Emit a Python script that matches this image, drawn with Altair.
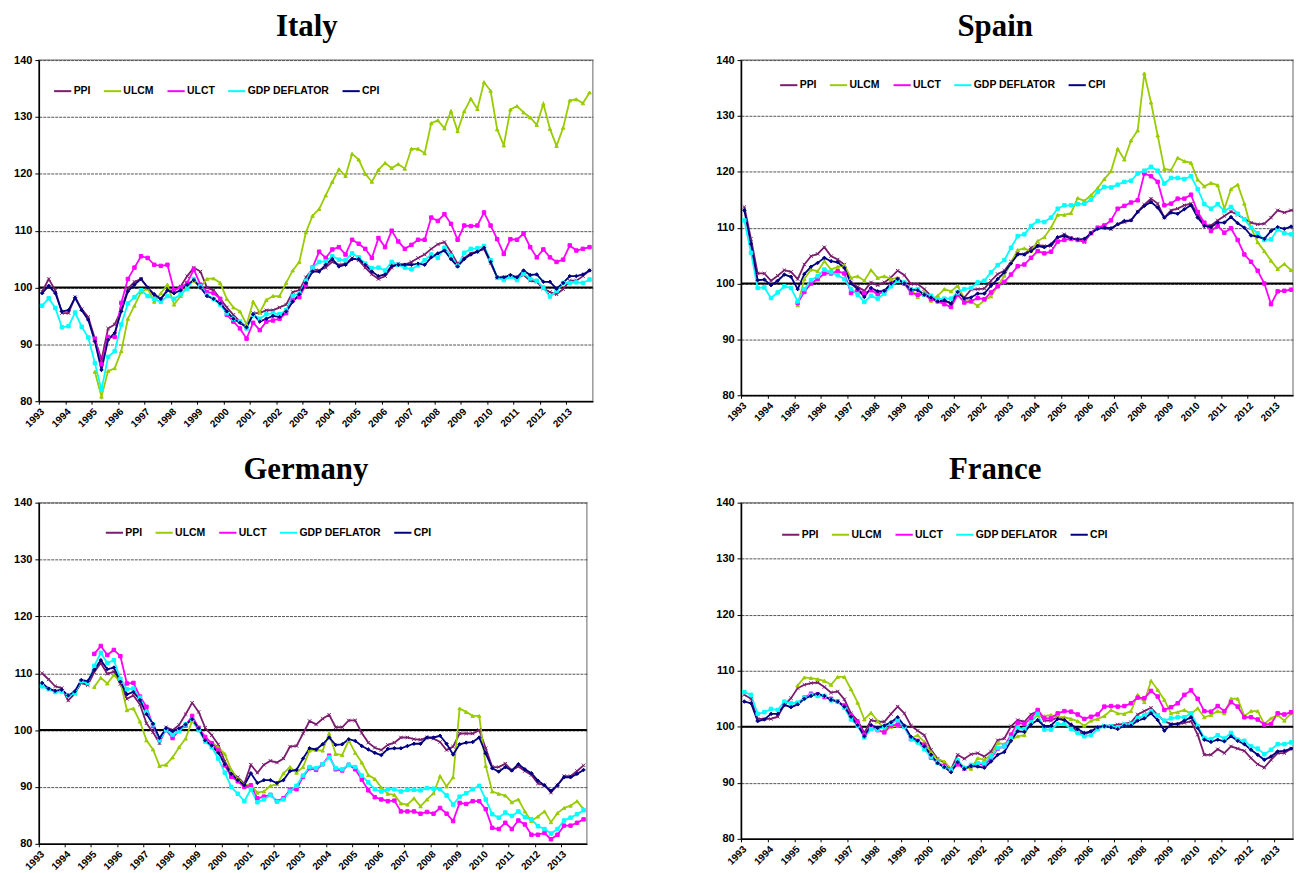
import altair as alt
import pandas as pd

SERIES = ["PPI", "ULCM", "ULCT", "GDP DEFLATOR", "CPI"]
COLORS = ["#7B1C6E", "#99CC00", "#FF00FF", "#00FFFF", "#000080"]
SHAPES = ["M-1,-1L1,1M-1,1L1,-1", "triangle-up", "square", "square", "diamond"]
YEARS = list(range(1993, 2014))
Y_TICKS = [80, 90, 100, 110, 120, 130, 140]
NA8 = [None] * 8

# ---------------- Italy ----------------
IT_PPI = [99.3,101.5,99.5,95.5,95.5,98.3,96.2,94.8,91.0,87.3, 92.8,93.5,96.0,99.8,101.0,101.5,100.0,98.5,98.0,99.5,
          99.5,100.2,102.0,103.5,102.8,100.0,99.5,98.0,96.5,95.2, 94.0,93.0,95.5,95.5,96.0,96.0,96.5,97.0,99.2,99.5,
          101.8,103.2,103.0,103.5,104.5,104.0,104.2,105.2,104.8,103.5, 102.3,101.5,102.0,103.5,104.2,104.0,104.5,105.2,105.8,106.8,
          107.6,108.0,106.2,104.2,105.2,106.0,106.3,106.8,104.3,101.8, 101.8,102.0,101.8,102.2,101.2,101.0,99.8,99.2,98.8,99.7,
          101.2,101.2,102.0,103.0]
IT_ULCM = NA8 + [85.2,80.8,85.3,85.8,88.8,94.5,96.8,99.2,99.8,97.5, 99.0,100.5,97.0,98.5,100.3,101.2,100.0,101.5,101.6,100.8,
          98.0,96.5,95.8,93.5,97.5,95.6,97.8,98.5,98.5,100.8, 103.0,104.5,109.7,112.6,113.8,116.2,118.6,120.8,119.6,123.5,
          122.5,120.0,118.6,120.7,121.9,121.0,121.7,120.9,124.4,124.4, 123.6,128.9,129.4,128.0,131.0,127.5,131.0,133.2,131.4,136.1,
          134.6,127.8,125.0,131.3,131.9,130.8,129.9,128.6,132.3,127.9, 124.9,128.1,132.9,133.1,132.4,134.3]
IT_ULCT = NA8 + [91.0,86.5,91.3,91.3,97.3,101.5,103.5,105.5,105.2,104.0, 103.8,104.0,99.5,100.0,100.8,103.2,100.5,99.2,99.0,98.0,
          95.2,94.0,92.8,91.0,93.8,92.5,94.0,94.2,94.5,95.5, 97.8,98.3,100.5,103.5,
          106.3,105.2,106.7,107.1,105.8,108.4,107.7,106.8,105.2,108.7, 107.1,110.0,108.1,106.8,107.5,108.4,108.4,112.3,111.7,112.9,
          111.2,108.4,110.9,110.8,110.9,113.2,110.9,108.5,105.9,108.5, 108.4,109.5,107.1,105.3,106.7,105.3,104.5,104.9,107.4,106.5,
          106.8,107.1]
IT_GDP = [96.8,98.1,96.4,93.0,93.2,95.6,93.1,91.2,86.7,82.0, 87.8,88.8,93.5,97.2,98.3,99.5,98.5,98.0,97.5,98.5,
          98.0,98.8,99.8,101.5,100.2,98.7,98.0,97.0,95.5,94.5, 94.0,92.8,95.2,94.5,95.3,95.5,95.3,96.0,98.5,99.0,
          101.2,103.5,
          104.5,104.6,105.5,104.9,104.8,106.0,105.3,104.2,103.4,103.5, 103.0,104.5,104.0,103.5,103.2,103.9,104.8,105.8,105.2,107.0,
          105.6,103.8,106.1,106.8,106.9,107.3,104.8,101.7,101.3,101.9, 101.3,102.4,101.6,101.2,100.0,98.4,99.4,100.8,100.8,100.9,
          100.8,101.4]
IT_CPI = [99.0,100.3,99.0,95.8,96.0,98.2,96.0,94.3,90.5,85.5, 90.8,92.0,95.8,99.3,100.5,101.5,100.0,98.8,98.0,99.5,
          99.0,99.5,100.5,101.3,100.0,98.5,98.0,97.2,95.8,94.5, 93.8,93.0,95.3,94.0,94.5,95.0,94.8,95.8,97.5,98.8,
          100.8,102.8,102.8,104.0,105.0,103.7,104.0,105.0,105.0,104.0, 102.8,102.0,102.3,103.8,104.0,104.0,104.0,104.2,104.0,105.3,
          106.0,106.5,105.0,103.7,105.0,105.8,106.3,107.0,104.5,101.8, 101.8,102.2,101.8,103.0,102.2,102.3,101.0,101.0,99.8,100.8,
          102.0,102.0,102.3,103.0]

# ---------------- Spain ----------------
ES_PPI = [113.7,108.0,101.8,101.8,100.5,101.4,102.4,102.1,100.8,103.4, 104.9,105.3,106.5,104.9,104.3,103.4,100.2,99.4,98.7,100.2,
          99.7,100.2,101.1,102.3,101.5,99.9,99.9,99.0,97.8,96.8, 96.9,96.5,98.4,97.5,98.9,99.0,
          99.1,100.5,101.7,102.3,103.9,105.4,105.2,106.4,106.9,106.7, 106.7,108.2,108.8,108.1,107.9,107.4,109.1,110.0,109.9,109.7,
          110.6,111.0,111.3,112.9,114.1,115.2,114.3,111.8,113.1,113.4, 114.0,114.3,112.4,110.4,110.4,111.3,112.1,112.9,112.3,111.6,
          110.9,110.6,110.7,111.8,113.1,112.7,113.1,113.2]
ES_ULCM = NA8 + [96.1,100.8,102.5,102.2,104.0,102.5,103.0,103.3,101.0,101.3, 100.5,102.4,101.0,101.3,100.8,101.0,100.0,99.0,97.6,98.5,
          96.9,97.8,99.0,98.6,99.6,97.3,96.8,96.0,
          97.0,97.7,99.5,101.4,103.8,106.0,106.3,105.8,107.6,108.3, 110.0,112.3,112.3,112.6,115.3,114.8,115.8,117.1,118.7,120.1,
          124.1,122.2,125.6,127.4,137.6,132.4,126.5,120.5,120.3,122.5, 121.9,121.6,118.6,117.4,118.0,117.6,113.4,116.9,117.7,114.3,
          110.0,107.4,105.8,104.1,102.6,103.5,102.4,102.5]
ES_ULCT = NA8 + [96.5,98.5,100.0,100.8,101.8,101.8,102.2,101.8,98.3,98.8, 98.3,98.8,98.1,98.6,100.0,100.8,100.0,98.3,98.0,98.0,
          97.2,96.8,96.3,95.8,98.0,96.6,96.8,97.4,
          97.2,98.4,99.5,100.3,101.6,103.1,103.4,104.6,105.8,105.4, 105.7,107.5,107.8,108.0,107.8,107.6,109.0,110.0,110.4,111.3,
          113.4,113.9,114.5,114.9,119.7,119.2,118.2,114.0,114.3,115.2, 115.2,115.9,112.8,110.9,109.4,110.3,109.1,109.9,107.8,105.2,
          103.9,102.3,100.0,96.3,98.6,98.7,98.9,98.9]
ES_GDP = [111.3,105.5,99.2,99.3,97.4,98.4,99.5,99.2,96.8,99.0, 100.6,101.3,102.5,102.0,101.5,100.8,99.0,98.0,96.7,97.8,
          97.3,98.2,99.5,100.5,100.2,99.0,99.0,98.0,97.8,97.2, 97.3,97.3,98.4,99.0,99.2,100.2,
          100.5,102.0,103.3,104.2,106.4,108.5,108.8,110.3,111.2,111.0, 111.8,113.4,114.0,114.0,114.2,114.3,115.0,116.4,117.3,117.2,
          117.7,118.2,118.4,119.7,120.2,120.9,120.2,117.9,118.9,118.9, 118.7,119.2,116.9,114.2,113.4,114.2,113.0,113.7,112.5,111.5,
          110.0,109.0,107.8,107.9,109.7,109.0,108.8,108.8]
ES_CPI = [113.1,107.1,100.6,100.7,99.7,100.5,101.6,101.2,99.0,101.7, 103.0,103.7,104.6,104.0,103.8,102.8,100.0,99.0,97.6,99.2,
          98.6,98.7,100.0,100.8,100.0,98.9,98.8,98.0,97.5,96.8, 97.0,96.4,98.5,97.3,97.5,98.2,
          98.2,99.6,100.8,102.0,103.6,105.2,105.2,105.8,106.7,106.5, 107.0,108.3,108.5,108.1,107.9,108.0,109.0,109.8,110.0,109.9,
          110.6,111.2,111.3,112.8,113.9,114.6,113.6,111.8,112.7,112.5, 113.3,114.0,111.8,110.3,110.1,110.9,110.9,111.9,110.8,110.0,
          108.6,108.4,108.0,109.4,110.1,109.8,110.2,110.2]

# ---------------- Germany ----------------
DE_PPI = [110.0,108.9,107.7,107.4,105.2,106.4,108.3,107.9,110.2,111.8, 109.9,110.3,108.1,105.5,106.1,104.5,101.2,99.6,97.7,100.5,
          100.0,100.9,102.8,104.8,103.2,100.4,99.1,97.5,94.5,92.5, 91.7,90.6,93.9,92.5,93.9,94.6,94.3,95.0,97.1,97.2,
          99.4,101.6,
          101.0,102.0,102.7,100.5,100.5,101.7,101.7,99.5,97.8,96.9, 96.5,97.4,97.8,98.7,98.7,98.4,98.3,98.7,98.5,97.9,
          96.5,97.1,99.4,99.4,99.4,100.0,96.8,93.5,93.5,94.1, 92.9,93.6,92.8,92.1,90.6,90.3,89.0,90.3,91.9,91.9,
          92.8,93.8]
DE_ULCM = NA8 + [107.6,109.2,108.2,109.7,108.5,103.5,103.8,101.5,98.2,96.6, 93.7,93.9,95.2,97.0,98.5,101.6,100.0,98.5,97.8,97.0,
          95.8,93.0,91.5,90.4,90.3,89.0,89.2,90.2,90.5,92.4, 93.5,92.5,93.5,96.4,
          96.5,96.4,99.4,95.8,95.6,98.2,96.0,94.3,92.1,91.4, 89.9,88.8,88.6,87.1,86.9,88.0,86.6,87.8,88.9,91.9,
          90.1,91.7,103.8,103.2,102.5,102.5,93.7,89.2,88.8,88.5, 87.3,87.8,85.7,84.0,84.8,85.7,83.8,85.4,86.3,86.7,
          87.5,86.1]
DE_ULCT = NA8 + [113.4,114.8,113.2,114.1,113.0,108.2,108.3,105.9,104.1,100.7, 98.2,100.0,98.6,100.0,100.8,102.5,100.4,98.8,97.7,96.5,
          93.8,91.8,91.0,90.0,90.3,88.0,88.3,88.6,87.5,88.0, 89.5,89.6,91.8,93.3,
          93.0,94.0,95.5,93.1,92.9,93.9,93.1,91.3,89.4,88.2, 87.8,87.5,87.6,85.7,85.7,85.7,85.3,85.6,85.3,86.3,
          85.3,84.0,87.2,87.0,87.5,87.5,86.1,82.8,82.6,83.7, 82.6,84.1,83.4,81.6,81.6,81.9,80.8,81.6,83.2,83.2,
          83.7,84.3]
DE_GDP = [107.7,107.2,106.7,106.8,106.1,106.5,108.6,108.3,111.3,113.6, 111.8,112.3,109.0,107.2,107.3,105.7,103.2,101.0,98.2,100.0,
          99.2,99.8,101.0,101.8,100.0,98.0,97.0,95.0,92.5,90.0, 88.8,87.5,89.6,87.3,87.8,88.6,87.4,87.8,89.3,90.2,
          92.0,93.5,
          93.3,94.0,95.2,93.3,93.1,93.9,93.5,92.0,90.8,89.6, 89.2,89.6,89.6,89.2,89.5,89.5,89.4,89.8,89.7,89.6,
          88.5,86.9,88.3,88.9,89.6,90.2,87.8,85.2,84.6,85.5, 84.9,85.7,84.7,84.3,83.1,82.6,81.8,82.6,84.1,84.6,
          85.2,85.9]
DE_CPI = [108.3,107.3,106.9,107.1,106.1,106.8,108.8,108.6,110.6,112.3, 110.7,111.0,108.5,106.3,106.7,105.3,102.8,101.1,98.6,100.3,
          99.8,100.3,101.0,101.9,100.3,98.2,97.3,96.0,94.0,92.3, 91.2,90.3,92.4,90.7,91.2,91.2,90.7,91.2,92.8,93.0,
          95.0,96.8,
          96.6,97.5,98.7,97.4,97.5,98.4,98.1,97.2,96.6,96.0, 95.6,96.7,96.8,96.8,97.2,97.6,97.6,98.7,98.7,99.0,
          97.6,95.7,97.5,97.8,97.9,98.7,95.9,93.3,92.7,93.5, 92.9,94.0,93.1,92.4,91.1,90.3,89.3,90.3,91.7,91.7,
          92.3,93.0]

# ---------------- France ----------------
FR_PPI = [105.7,105.0,101.4,101.4,101.4,101.8,103.9,105.1,106.9,107.5, 107.8,107.9,107.1,106.1,106.3,104.9,102.4,101.1,98.9,101.2,
          100.9,100.9,102.3,103.6,102.4,100.2,99.3,98.5,95.9,94.3, 93.6,92.4,95.0,94.3,95.1,95.3,
          94.7,95.6,97.6,97.9,100.1,101.2,100.9,102.2,102.8,101.1, 101.1,101.7,101.4,100.2,99.1,98.6,99.1,99.9,100.2,100.2,
          100.4,100.5,100.8,102.2,102.8,103.4,102.1,101.0,100.5,100.5, 100.7,101.0,98.6,95.0,95.0,96.0,95.3,96.5,96.1,95.7,
          94.4,93.3,92.7,94.1,95.3,95.3,96.1,96.2]
FR_ULCM = NA8 + [107.4,108.8,108.7,108.5,108.2,107.5,108.9,108.9,106.7,104.3, 101.3,102.5,101.0,99.6,100.0,100.2,100.0,98.0,98.5,97.3,
          95.5,94.2,93.8,92.5,93.8,92.8,92.5,94.4,
          94.1,95.0,97.1,96.9,97.7,98.3,98.5,101.1,102.1,101.9, 102.1,101.7,101.7,101.4,101.0,100.2,101.1,101.4,101.9,103.0,
          102.4,102.3,102.8,105.7,104.4,108.2,106.6,104.8,102.4,102.6, 103.0,102.3,103.3,101.7,102.1,102.8,102.4,105.0,105.0,101.9,
          102.8,102.8,100.5,101.5,102.1,101.1,102.4,102.5]
FR_ULCT = NA8 + [104.2,105.2,105.9,105.8,105.3,105.0,104.5,103.8,102.0,100.8, 98.6,100.0,99.4,99.0,100.2,100.4,100.0,97.8,97.5,96.8,
          94.5,93.6,93.0,92.2,93.3,92.5,93.0,93.4,
          93.2,94.4,96.1,96.5,98.6,100.7,100.5,101.5,103.0,101.5, 101.5,102.4,102.8,102.7,102.2,101.4,101.8,102.2,103.6,103.7,
          103.6,103.7,104.2,105.2,105.1,106.4,105.4,103.0,103.5,104.2, 105.7,106.5,105.0,102.8,102.7,103.7,102.8,104.4,103.6,101.7,
          101.7,101.3,100.4,100.5,102.4,102.2,102.6,102.7]
FR_GDP = [106.2,105.7,102.3,102.6,103.2,103.0,104.5,104.2,104.3,105.1, 105.7,105.5,105.5,104.7,104.5,103.4,101.3,100.2,98.1,99.6,
          99.5,100.0,100.6,101.2,100.0,97.8,97.2,96.0,94.6,93.6, 92.8,92.2,94.0,92.6,93.2,93.5,
          93.5,94.7,96.2,96.5,98.0,99.8,99.6,100.8,102.3,99.5, 99.5,100.5,100.5,99.6,98.9,98.3,98.5,99.6,100.1,100.1,
          99.9,100.4,100.5,101.5,102.0,102.8,102.0,101.1,101.5,101.7, 101.7,102.4,100.1,98.0,97.8,98.5,97.9,98.9,97.7,97.5,
          96.5,96.1,95.1,95.9,96.9,96.9,97.2,97.3]
FR_CPI = [104.5,104.2,101.0,101.3,102.3,102.3,103.9,103.5,104.0,105.0, 105.5,105.9,105.5,104.8,104.5,103.6,101.8,100.3,98.3,100.3,
          99.8,100.2,100.8,101.7,100.2,98.2,97.5,96.5,95.0,93.5, 92.8,91.9,93.7,92.5,93.0,92.9,
          92.7,93.8,95.0,95.5,97.5,99.2,99.1,100.4,101.2,100.1, 100.2,101.4,101.2,100.4,99.6,98.9,99.2,99.9,100.1,99.9,
          99.6,100.2,100.2,101.1,101.5,102.4,101.2,99.3,100.4,100.5, 101.1,101.7,99.8,97.7,97.3,97.7,97.4,98.3,97.5,96.9,
          95.9,95.0,94.1,94.7,95.6,95.7,96.1,96.2]

DATA = {
    "Italy": [IT_PPI, IT_ULCM, IT_ULCT, IT_GDP, IT_CPI],
    "Spain": [ES_PPI, ES_ULCM, ES_ULCT, ES_GDP, ES_CPI],
    "Germany": [DE_PPI, DE_ULCM, DE_ULCT, DE_GDP, DE_CPI],
    "France": [FR_PPI, FR_ULCM, FR_ULCT, FR_GDP, FR_CPI],
}

rows = []
for country, lists in DATA.items():
    for s, vals in zip(SERIES, lists):
        for q, v in enumerate(vals):
            if v is not None:
                rows.append({"country": country, "series": s, "t": 1993 + (q + 0.5) / 4, "v": v})
df = pd.DataFrame(rows)

SANS = "Liberation Sans"


def panel(country, width, height, xmax, lx, ly, tdx):
    d = df[df["country"] == country]
    xs = alt.Scale(domain=[1993, xmax], nice=False, zero=False)
    ys = alt.Scale(domain=[80, 140], nice=False, zero=False)
    xax = alt.Axis(values=YEARS, format="d", labelAngle=-45, labelAlign="right", labelBaseline="top",
                   labelFont=SANS, labelFontSize=10, labelFontWeight="bold", labelColor="black",
                   labelOverlap=False, labelPadding=2, domainColor="black", domainWidth=1.5,
                   tickColor="black", tickSize=3, grid=False, title=None)
    yax = alt.Axis(values=Y_TICKS, format="d", labelFont=SANS, labelFontSize=11, labelFontWeight="bold",
                   labelColor="black", labelPadding=3, domainColor="black", domainWidth=1.5,
                   tickColor="black", tickSize=4, grid=True, gridColor="#555555", gridDash=[3, 1],
                   gridWidth=1, title=None)
    cscale = alt.Scale(domain=SERIES, range=COLORS)
    rule = alt.Chart(pd.DataFrame({"v": [100]})).mark_rule(color="black", strokeWidth=2).encode(
        y=alt.Y("v:Q", scale=ys, axis=yax))
    lines = alt.Chart(d).mark_line(strokeWidth=1.8, clip=True).encode(
        x=alt.X("t:Q", scale=xs, axis=xax),
        y=alt.Y("v:Q", scale=ys, axis=yax),
        color=alt.Color("series:N", scale=cscale,
                        legend=alt.Legend(title=None, orient="none", legendX=lx, legendY=ly,
                                          direction="horizontal", columns=5, symbolType="stroke",
                                          symbolStrokeWidth=2, symbolSize=300, labelFont=SANS,
                                          labelFontSize=10.5, labelFontWeight="bold", labelColor="black",
                                          labelOffset=1, columnPadding=9, padding=0)),
        detail="series:N",
    )
    pts = alt.Chart(d).mark_point(filled=True, size=12, strokeWidth=1, opacity=1, clip=True).encode(
        x=alt.X("t:Q", scale=xs, axis=xax),
        y=alt.Y("v:Q", scale=ys, axis=yax),
        fill=alt.Fill("series:N", scale=cscale, legend=None),
        stroke=alt.Stroke("series:N", scale=cscale, legend=None),
        shape=alt.Shape("series:N", scale=alt.Scale(domain=SERIES, range=SHAPES), legend=None),
    )
    return alt.layer(rule, lines, pts).properties(
        width=width, height=height,
        title=alt.Title(country, font="Liberation Serif", fontSize=31, fontWeight="bold",
                        color="black", offset=11, anchor="middle", dx=tdx),
    )


italy = panel("Italy", 557, 343, 2014, 14, 21, -9)
spain = panel("Spain", 555, 337, 2013.7, 38, 15, -22)
germany = panel("Germany", 551, 343, 2014, 66, 20, -7)
france = panel("France", 555, 338, 2013.7, 40, 22, -22)

top = alt.hconcat(italy, spain, spacing=120).resolve_scale(color="independent").resolve_legend(color="independent")
bottom = alt.hconcat(germany, france, spacing=126).resolve_scale(color="independent").resolve_legend(color="independent")

chart = alt.vconcat(top, bottom, spacing=23).resolve_scale(color="independent").resolve_legend(
    color="independent").properties(
    padding={"left": 4, "top": 0, "right": 0, "bottom": 0},
    background="white",
).configure_view(stroke="#999999", strokeWidth=1.5)

chart.save("out.html", embed_options={"renderer": "svg", "actions": False})
